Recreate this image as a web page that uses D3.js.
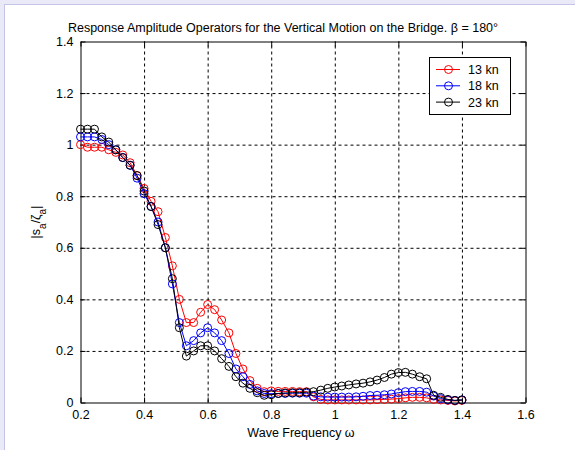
<!DOCTYPE html>
<html><head><meta charset="utf-8">
<script src="https://cdn.jsdelivr.net/npm/d3@7/dist/d3.min.js"></script>
<style>
body{margin:0;background:#e9e9f7}
svg{display:block}
text{font-family:"Liberation Sans",Arial,sans-serif;fill:#000}
</style>
</head><body><svg id="c" width="575" height="450"></svg>
<script>
const freq = [0.200,0.222,0.244,0.267,0.289,0.311,0.333,0.356,0.378,0.400,
  0.422,0.444,0.467,0.489,0.511,0.533,0.556,0.578,0.600,0.622,
  0.644,0.667,0.689,0.711,0.733,0.756,0.778,0.800,0.822,0.844,
  0.867,0.889,0.911,0.933,0.956,0.978,1.000,1.022,1.044,1.067,
  1.089,1.111,1.133,1.156,1.178,1.200,1.222,1.244,1.267,1.289,
  1.311,1.333,1.356,1.378,1.400];
const rao13 = [1.00,0.99,0.99,0.99,0.98,0.97,0.96,0.93,0.88,0.83,
  0.78,0.74,0.64,0.53,0.40,0.31,0.31,0.35,0.38,0.36,
  0.32,0.27,0.19,0.13,0.085,0.055,0.042,0.045,0.043,0.043,
  0.043,0.042,0.042,0.022,0.012,0.010,0.010,0.010,0.010,0.010,
  0.010,0.010,0.011,0.012,0.013,0.015,0.018,0.020,0.020,0.018,
  0.012,0.010,0.008,0.006,0.008];
const rao18 = [1.03,1.03,1.03,1.02,1.00,0.98,0.95,0.92,0.87,0.81,
  0.76,0.70,0.60,0.46,0.31,0.22,0.24,0.27,0.29,0.27,
  0.24,0.19,0.13,0.10,0.07,0.045,0.035,0.034,0.035,0.035,
  0.036,0.036,0.036,0.025,0.022,0.021,0.021,0.021,0.021,0.022,
  0.024,0.027,0.028,0.030,0.033,0.038,0.042,0.043,0.043,0.040,
  0.025,0.015,0.010,0.008,0.010];
const rao23 = [1.06,1.06,1.06,1.03,1.01,0.98,0.95,0.92,0.88,0.82,
  0.76,0.69,0.60,0.48,0.29,0.18,0.20,0.22,0.22,0.20,
  0.17,0.14,0.10,0.075,0.055,0.038,0.028,0.030,0.035,0.037,
  0.038,0.038,0.040,0.042,0.048,0.055,0.060,0.064,0.068,0.072,
  0.075,0.080,0.087,0.097,0.110,0.116,0.117,0.110,0.100,0.092,
  0.028,0.020,0.012,0.008,0.010];
const seriesNames = ["13 kn","18 kn","23 kn"];
const seriesColors = ["#ff0000","#0000ff","#000000"];
const xTicks = [0.2,0.4,0.6,0.8,1.0,1.2,1.4,1.6];
const yTicks = [0,0.2,0.4,0.6,0.8,1.0,1.2,1.4];
const titleText = "Response Amplitude Operators for the Vertical Motion on the Bridge. \u03B2 = 180\u00B0";
const xLabel = "Wave Frequency \u03C9";

const svg = d3.select("#c");
// figure frame (left and top edges visible)
svg.append("rect").attr("x",4.5).attr("y",4.5).attr("width",580).attr("height",460)
  .attr("fill","#ffffff").attr("stroke","#c4c4e6").attr("stroke-width",1);

const L=80.5,R=525.5,T=41.5,B=402.5;
const x = d3.scaleLinear().domain([0.2,1.6]).range([L,R]);
const y = d3.scaleLinear().domain([0,1.4]).range([B,T]);
const fmt = d => d3.format("~g")(+d.toFixed(3));

// grid
const grid = svg.append("g");
grid.append("g").attr("transform",`translate(0,${B})`)
  .call(d3.axisBottom(x).tickValues(xTicks.slice(1,-1)).tickSize(-(B-T)).tickFormat(""))
  .call(g=>g.select(".domain").remove())
  .call(g=>g.selectAll("line").attr("stroke","#000").attr("stroke-dasharray","3,3"));
grid.append("g").attr("transform",`translate(${L},0)`)
  .call(d3.axisLeft(y).tickValues(yTicks.slice(1,-1)).tickSize(-(R-L)).tickFormat(""))
  .call(g=>g.select(".domain").remove())
  .call(g=>g.selectAll("line").attr("stroke","#000").attr("stroke-dasharray","3,3"));

// inner ticks on all sides
const tk = 5;
const ax = [
  [d3.axisBottom(x).tickValues(xTicks).tickSizeInner(-tk).tickSizeOuter(0).tickPadding(8).tickFormat(fmt), `translate(0,${B})`],
  [d3.axisTop(x).tickValues(xTicks).tickSizeInner(-tk).tickSizeOuter(0).tickFormat(""), `translate(0,${T})`],
  [d3.axisLeft(y).tickValues(yTicks).tickSizeInner(-tk).tickSizeOuter(0).tickPadding(7).tickFormat(fmt), `translate(${L},0)`],
  [d3.axisRight(y).tickValues(yTicks).tickSizeInner(-tk).tickSizeOuter(0).tickFormat(""), `translate(${R},0)`]
];
ax.forEach(([a,tr])=>{
  svg.append("g").attr("transform",tr).call(a)
    .call(g=>g.selectAll("line").attr("stroke","#000"))
    .call(g=>g.select(".domain").attr("stroke","#000"))
    .call(g=>g.selectAll("text").attr("font-size","12.5px").attr("font-family","Liberation Sans, Arial, sans-serif").attr("fill","#000"));
});

// data
const allSeries = [rao13, rao18, rao23];
const line = d3.line().x((d,i)=>x(freq[i])).y(d=>y(d));
allSeries.forEach((s,k)=>{
  const g = svg.append("g");
  g.append("path").datum(s).attr("d",line).attr("fill","none")
    .attr("stroke",seriesColors[k]).attr("stroke-width",1);
  g.selectAll("circle").data(s).join("circle")
    .attr("cx",(d,i)=>x(freq[i])).attr("cy",d=>y(d)).attr("r",4)
    .attr("fill","none").attr("stroke",seriesColors[k]).attr("stroke-width",1);
});

// title
svg.append("text").attr("x",283).attr("y",32).attr("text-anchor","middle")
  .attr("font-size","12.5px").text(titleText);
// x label
svg.append("text").attr("x",301).attr("y",437).attr("text-anchor","middle")
  .attr("font-size","12.5px").text(xLabel);
// y label
const yl = svg.append("text").attr("transform",`translate(40,222) rotate(-90)`)
  .attr("text-anchor","middle").attr("font-size","12.5px");
yl.append("tspan").text("|s");
yl.append("tspan").attr("baseline-shift","sub").attr("font-size","10px").text("a");
yl.append("tspan").text("/\u03B6");
yl.append("tspan").attr("baseline-shift","sub").attr("font-size","10px").text("a");
yl.append("tspan").text("|");

// legend
const lg = svg.append("g");
lg.append("rect").attr("x",429.5).attr("y",57.5).attr("width",81).attr("height",57)
  .attr("fill","#fff").attr("stroke","#000").attr("stroke-width",1);
seriesNames.forEach((n,k)=>{
  const yy = 69.5 + k*16.3;
  lg.append("line").attr("x1",436).attr("x2",460).attr("y1",yy).attr("y2",yy)
    .attr("stroke",seriesColors[k]).attr("stroke-width",1);
  lg.append("circle").attr("cx",448.5).attr("cy",yy).attr("r",4)
    .attr("fill","none").attr("stroke",seriesColors[k]);
  lg.append("text").attr("x",468).attr("y",yy+4.5).attr("font-size","12.5px").text(n);
});
</script>
</body></html>
